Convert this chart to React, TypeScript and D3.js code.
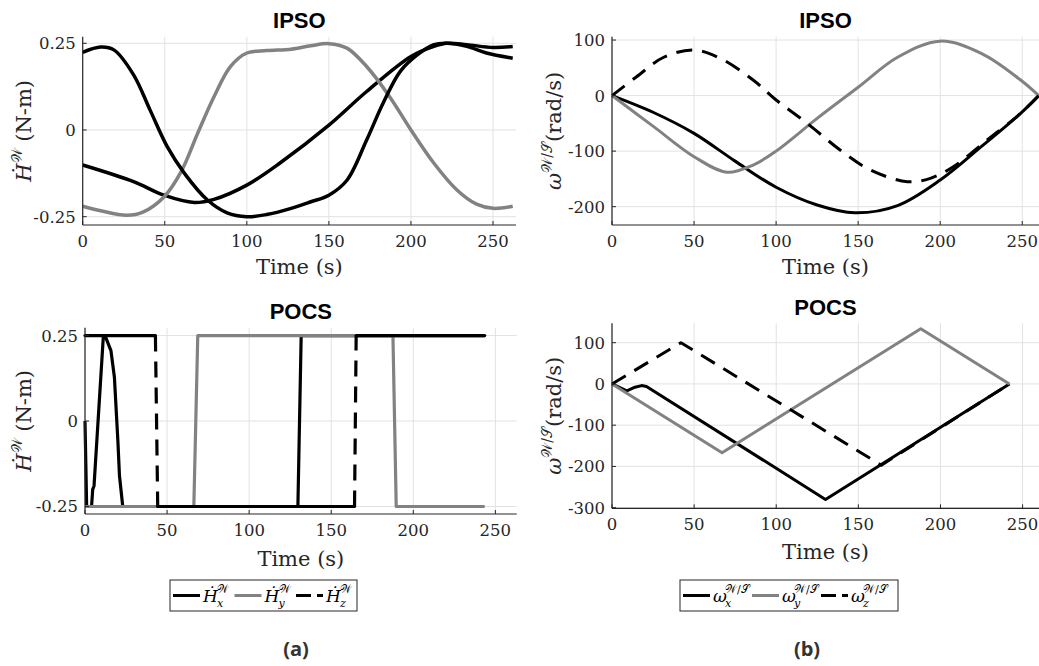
import React from 'react';
import * as d3 from 'd3';

type Pt = [number, number];

// ---------- tick values ----------
const timeTicks = [0, 50, 100, 150, 200, 250];
const torqueTicks = [-0.25, 0, 0.25];
const torqueTickLabels = ['-0.25', '0', '0.25'];
const ipsoRateTicks = [-200, -100, 0, 100];
const ipsoRateTickLabels = ['-200', '-100', '0', '100'];
const pocsRateTicks = [-300, -200, -100, 0, 100];
const pocsRateTickLabels = ['-300', '-200', '-100', '0', '100'];
const axisNames = ['x', 'y', 'z'];

// ---------- IPSO wheel torque (N-m) ----------
const ipsoHdotX: Pt[] = [[0, -0.101], [31, -0.149], [49.5, -0.188], [68, -0.209], [80, -0.2], [100, -0.159], [120, -0.096], [150, 0.014], [173, 0.111], [200, 0.212], [214, 0.241], [222, 0.25], [234, 0.246], [250, 0.238], [262, 0.241]];
const ipsoHdotY: Pt[] = [[0, -0.22], [11, -0.233], [27, -0.246], [37, -0.236], [49.5, -0.193], [60, -0.12], [70, -0.01], [80, 0.096], [90, 0.183], [100, 0.222], [112, 0.229], [127, 0.233], [139, 0.243], [150, 0.249], [161, 0.236], [173, 0.183], [187, 0.096], [200, 0], [214, -0.096], [228, -0.173], [240, -0.214], [250, -0.226], [262, -0.22]];
const ipsoHdotZ: Pt[] = [[0, 0.224], [11, 0.239], [19, 0.231], [31, 0.159], [41, 0.058], [51.5, -0.048], [62, -0.125], [76, -0.202], [88, -0.239], [100, -0.25], [112, -0.244], [127, -0.226], [139, -0.207], [150, -0.188], [161, -0.145], [173, -0.029], [183, 0.077], [193.5, 0.169], [204, 0.217], [214, 0.246], [222, 0.25], [234, 0.241], [246, 0.222], [262, 0.207]];

// ---------- POCS wheel torque (N-m) ----------
const pocsHdotX: Pt[] = [[0, 0], [1, -0.25], [4, -0.25], [4.7, -0.2], [5.5, -0.19], [11.2, 0.25], [12.2, 0.25], [15.8, 0.206], [17.9, 0.129], [20, -0.055], [21, -0.16], [23, -0.25], [129.7, -0.25], [131.7, 0.25], [243.5, 0.25]];
const pocsHdotY: Pt[] = [[0, -0.25], [66.3, -0.25], [68.7, 0.25], [187.6, 0.25], [189.6, -0.25], [243.5, -0.25]];
const pocsHdotZ: Pt[] = [[0, 0.25], [42.9, 0.25], [44.3, -0.25], [164.2, -0.25], [165.2, 0.25], [243.5, 0.25]];

// ---------- IPSO wheel rate (rad/s) ----------
const ipsoOmegaX: Pt[] = [[0, 0], [25, -30], [50, -68], [75, -118], [100, -165], [125, -197], [148, -211], [174, -198], [200, -152], [225, -92], [249, -32], [260, 0]];
const ipsoOmegaY: Pt[] = [[0, 0], [25, -55], [50, -110], [70, -138], [86, -125], [100, -100], [125, -41], [150, 15], [174, 69], [200, 98], [225, 76], [249, 28], [260, 0]];
const ipsoOmegaZ: Pt[] = [[0, 0], [15, 34], [31.5, 69], [50, 82], [66, 67], [86, 28], [100, -8], [119, -50], [139, -98], [157.5, -134], [180, -155], [194, -149], [208, -128], [228.6, -80], [249, -32], [260, 0]];

// ---------- POCS wheel rate (rad/s) ----------
const pocsOmegaX: Pt[] = [[0, 0], [9, -17], [14, -8], [18, -4], [21, -6], [130, -280], [242, 0]];
const pocsOmegaY: Pt[] = [[0, 0], [67, -167], [188, 134], [242, 0]];
const pocsOmegaZ: Pt[] = [[0, 0], [42, 100], [164, -197], [242, 0]];

const BLACK = '#000000';
const GRAY = '#828282';
const DASH = '16,10';
const TICK_FONT = '"DejaVu Serif", serif';
const LABEL_FONT = '"DejaVu Serif", serif';
const TITLE_FONT = '"Liberation Sans", Arial, sans-serif';

type DashMode = 'none' | 'dash' | 'steep';
interface Series { data: Pt[]; color: string; dash: DashMode; smooth: boolean; width: number }

interface Box { x0: number; x1: number; y0: number; y1: number }

function SeriesMark({ s, x, y }: { s: Series; x: d3.ScaleLinear<number, number>; y: d3.ScaleLinear<number, number> }) {
  if (s.dash === 'steep') {
    return (
      <g>
        {d3.pairs(s.data).map(([a, b], i) => {
          const steep = Math.abs(y(b[1]) - y(a[1])) > Math.abs(x(b[0]) - x(a[0]));
          return (
            <line key={i} x1={x(a[0])} y1={y(a[1])} x2={x(b[0])} y2={y(b[1])}
              stroke={s.color} strokeWidth={s.width}
              strokeDasharray={steep ? DASH : undefined}
              strokeLinecap={steep ? 'butt' : 'round'} />
          );
        })}
      </g>
    );
  }
  const line = d3.line<Pt>().x(d => x(d[0])).y(d => y(d[1]))
    .curve(s.smooth ? d3.curveCatmullRom.alpha(0.5) : d3.curveLinear);
  return (
    <path d={line(s.data) || ''} fill="none" stroke={s.color} strokeWidth={s.width}
      strokeDasharray={s.dash === 'dash' ? DASH : undefined} strokeLinejoin="round" />
  );
}

interface PanelProps {
  id: string; box: Box; xMax: number; yDomain: [number, number];
  yTicks: number[]; yTickLabels: string[]; series: Series[];
  title: string; titleY: number; xLabelY: number; yLabelX: number; yLabel: React.ReactNode;
}

function Panel(p: PanelProps) {
  const { box } = p;
  const x = d3.scaleLinear().domain([0, p.xMax]).range([box.x0, box.x1]);
  const y = d3.scaleLinear().domain(p.yDomain).range([box.y1, box.y0]);
  const cx = (box.x0 + box.x1) / 2;
  const cy = (box.y0 + box.y1) / 2;
  const tickLen = 4;
  return (
    <g>
      <defs>
        <clipPath id={p.id}>
          <rect x={box.x0 - 2} y={box.y0 - 3} width={box.x1 - box.x0 + 2} height={box.y1 - box.y0 + 5} />
        </clipPath>
      </defs>
      {timeTicks.map(t => (
        <line key={'gx' + t} x1={x(t)} x2={x(t)} y1={box.y0} y2={box.y1} stroke="#e2e2e2" strokeWidth={1} />
      ))}
      {p.yTicks.map(v => (
        <line key={'gy' + v} x1={box.x0} x2={box.x1} y1={y(v)} y2={y(v)} stroke="#e2e2e2" strokeWidth={1} />
      ))}
      <g clipPath={`url(#${p.id})`}>
        {p.series.map((s, i) => <SeriesMark key={i} s={s} x={x} y={y} />)}
      </g>
      <line x1={box.x0} x2={box.x0} y1={box.y0} y2={box.y1} stroke="#262626" strokeWidth={1.2} />
      <line x1={box.x0} x2={box.x1} y1={box.y1} y2={box.y1} stroke="#262626" strokeWidth={1.2} />
      {timeTicks.map(t => (
        <g key={'tx' + t}>
          <line x1={x(t)} x2={x(t)} y1={box.y1} y2={box.y1 - tickLen} stroke="#262626" strokeWidth={1} />
          <text x={x(t)} y={box.y1 + 22} textAnchor="middle" fontFamily={TICK_FONT} fontSize={16.5} fill="#262626">{t}</text>
        </g>
      ))}
      {p.yTicks.map((v, i) => (
        <g key={'ty' + v}>
          <line x1={box.x0} x2={box.x0 + tickLen} y1={y(v)} y2={y(v)} stroke="#262626" strokeWidth={1} />
          <text x={box.x0 - 7} y={y(v) + 6} textAnchor="end" fontFamily={TICK_FONT} fontSize={16.5} fill="#262626">{p.yTickLabels[i]}</text>
        </g>
      ))}
      <text x={cx} y={p.titleY} textAnchor="middle" fontFamily={TITLE_FONT} fontWeight="bold" fontSize={22} fill="#000">{p.title}</text>
      <text x={cx} y={p.xLabelY} textAnchor="middle" fontFamily={LABEL_FONT} fontSize={21} fill="#262626">Time (s)</text>
      <text transform={`translate(${p.yLabelX},${cy}) rotate(-90)`} textAnchor="middle" fontFamily={LABEL_FONT} fontSize={21} fill="#262626">{p.yLabel}</text>
    </g>
  );
}

const hLabel = (
  <>
    <tspan fontStyle="italic">Ḣ</tspan>
    <tspan fontSize={14} dy={-9}>𝒲</tspan>
    <tspan dy={9}> (N-m)</tspan>
  </>
);
const wLabel = (
  <>
    <tspan fontStyle="italic">ω</tspan>
    <tspan fontSize={14} dy={-9}>𝒲/𝒮</tspan>
    <tspan dy={9}>(rad/s)</tspan>
  </>
);

interface LegendItem { color: string; dash: boolean }
const legendStyles: LegendItem[] = [
  { color: BLACK, dash: false },
  { color: GRAY, dash: false },
  { color: BLACK, dash: true },
];

function Legend({ x0, y0, w, h, pitch, base, baseW, sup }: { x0: number; y0: number; w: number; h: number; pitch: number; base: string; baseW: number; sup: string }) {
  const cy = y0 + h / 2;
  return (
    <g>
      <rect x={x0} y={y0} width={w} height={h} fill="#fff" stroke="#262626" strokeWidth={1} />
      {legendStyles.map((st, i) => {
        const lx = x0 + 3 + i * pitch;
        const tx = lx + 30;
        return (
          <g key={i}>
            <line x1={lx} x2={lx + 27} y1={cy} y2={cy} stroke={st.color} strokeWidth={3}
              strokeDasharray={st.dash ? '15,6' : undefined} />
            <text x={tx} y={cy + 6} fontFamily={LABEL_FONT} fontStyle="italic" fontSize={17} fill="#000">{base}</text>
            <text x={tx + baseW} y={cy - 3} fontFamily={LABEL_FONT} fontSize={11} fill="#000">{sup}</text>
            <text x={tx + baseW} y={cy + 11} fontFamily={LABEL_FONT} fontStyle="italic" fontSize={11} fill="#000">{axisNames[i]}</text>
          </g>
        );
      })}
    </g>
  );
}

export default function App() {
  const tlSeries: Series[] = [
    { data: ipsoHdotX, color: BLACK, dash: 'none', smooth: true, width: 3.5 },
    { data: ipsoHdotY, color: GRAY, dash: 'none', smooth: true, width: 3.5 },
    { data: ipsoHdotZ, color: BLACK, dash: 'none', smooth: true, width: 3.5 },
  ];
  const blSeries: Series[] = [
    { data: pocsHdotX, color: BLACK, dash: 'none', smooth: false, width: 3.2 },
    { data: pocsHdotY, color: GRAY, dash: 'none', smooth: false, width: 3.2 },
    { data: pocsHdotZ, color: BLACK, dash: 'steep', smooth: false, width: 3.2 },
  ];
  const trSeries: Series[] = [
    { data: ipsoOmegaX, color: BLACK, dash: 'none', smooth: true, width: 3 },
    { data: ipsoOmegaY, color: GRAY, dash: 'none', smooth: true, width: 3 },
    { data: ipsoOmegaZ, color: BLACK, dash: 'dash', smooth: true, width: 3 },
  ];
  const brSeries: Series[] = [
    { data: pocsOmegaX, color: BLACK, dash: 'none', smooth: false, width: 3 },
    { data: pocsOmegaY, color: GRAY, dash: 'none', smooth: false, width: 3 },
    { data: pocsOmegaZ, color: BLACK, dash: 'dash', smooth: false, width: 3 },
  ];
  return (
    <svg width={1039} height={666} viewBox="0 0 1039 666"
      style={{ position: 'absolute', left: 0, top: 0, background: '#fff' }}>
      <rect x={0} y={0} width={1039} height={666} fill="#fff" />
      <Panel id="clip-tl" box={{ x0: 82.7, x1: 516, y0: 36.7, y1: 225 }} xMax={264} yDomain={[-0.274, 0.269]}
        yTicks={torqueTicks} yTickLabels={torqueTickLabels} series={tlSeries}
        title="IPSO" titleY={28.3} xLabelY={274} yLabelX={31} yLabel={hLabel} />
      <Panel id="clip-bl" box={{ x0: 85, x1: 516.7, y0: 327.7, y1: 514 }} xMax={263} yDomain={[-0.272, 0.273]}
        yTicks={torqueTicks} yTickLabels={torqueTickLabels} series={blSeries}
        title="POCS" titleY={319} xLabelY={566} yLabelX={31} yLabel={hLabel} />
      <Panel id="clip-tr" box={{ x0: 612, x1: 1039, y0: 36.7, y1: 225 }} xMax={260.2} yDomain={[-233, 106]}
        yTicks={ipsoRateTicks} yTickLabels={ipsoRateTickLabels} series={trSeries}
        title="IPSO" titleY={28.3} xLabelY={274} yLabelX={561} yLabel={wLabel} />
      <Panel id="clip-br" box={{ x0: 612, x1: 1039, y0: 323.3, y1: 508.3 }} xMax={260} yDomain={[-301.5, 147]}
        yTicks={pocsRateTicks} yTickLabels={pocsRateTickLabels} series={brSeries}
        title="POCS" titleY={315} xLabelY={559} yLabelX={561} yLabel={wLabel} />
      <Legend x0={170} y0={580} w={187} h={31} pitch={61.5} base="Ḣ" baseW={14} sup="𝒲" />
      <Legend x0={680} y0={580} w={218} h={31} pitch={69} base="ω" baseW={12} sup="𝒲/𝒮" />
      <text x={296} y={656} textAnchor="middle" fontFamily='"Open Sans", sans-serif' fontWeight="bold" fontSize={20} fill="#333">(a)</text>
      <text x={807} y={656} textAnchor="middle" fontFamily='"Open Sans", sans-serif' fontWeight="bold" fontSize={20} fill="#333">(b)</text>
    </svg>
  );
}
